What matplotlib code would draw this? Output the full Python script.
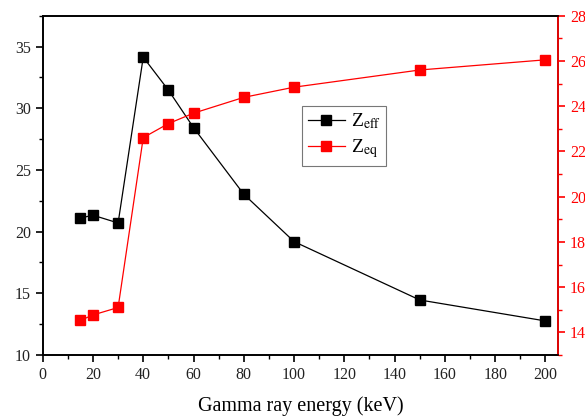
import numpy as np
import matplotlib
matplotlib.use("Agg")
import matplotlib.pyplot as plt
from matplotlib.ticker import MultipleLocator

# energies (keV) and the two atomic numbers
energy = [15, 20, 30, 40, 50, 60, 80, 100, 150, 200]
z_eff = [21.1, 21.33, 20.7, 34.14, 31.47, 28.43, 23.03, 19.19, 14.46, 12.76]
z_eq = [14.53, 14.77, 15.10, 22.61, 23.23, 23.69, 24.39, 24.84, 25.60, 26.05]

plt.rcParams['font.family'] = ['Liberation Serif', 'DejaVu Serif']
plt.rcParams['mathtext.fontset'] = 'stix'

fig = plt.figure(figsize=(5.85, 4.16), dpi=100)
ax = fig.add_axes([42.7/585, 1-355/416, (558-42.7)/585, (355-15.7)/416])
ax2 = ax.twinx()

l1, = ax.plot(energy, z_eff, color='black', lw=0.9, marker='s', ms=7,
              mfc='black', mec='black', label=r'Z$_{\mathrm{eff}}$')
l2, = ax2.plot(energy, z_eq, color='red', lw=0.9, marker='s', ms=7,
               mfc='red', mec='red', label=r'Z$_{\mathrm{eq}}$')

ax.set_xlim(0, 205)
ax.set_ylim(10, 37.5)
ax2.set_ylim(13, 28)

ax.xaxis.set_major_locator(MultipleLocator(20))
ax.xaxis.set_minor_locator(MultipleLocator(10))
ax.yaxis.set_major_locator(MultipleLocator(5))
ax.yaxis.set_minor_locator(MultipleLocator(2.5))
ax2.yaxis.set_major_locator(MultipleLocator(2))
ax2.yaxis.set_minor_locator(MultipleLocator(1))

for a in (ax, ax2):
    for s in a.spines.values():
        s.set_linewidth(1.2)
ax.tick_params(which='major', direction='out', length=5, width=1.2, labelsize=11.5,
               labelcolor='#222222')
ax.tick_params(which='minor', direction='out', length=3, width=1.0)
ax2.tick_params(which='major', direction='out', length=5, width=1.2, labelsize=11.5,
                colors='red')
ax2.tick_params(which='minor', direction='out', length=3, width=1.0, colors='red')
ax2.spines['right'].set_color('red')

ax.set_xlabel('Gamma ray energy (keV)', fontsize=14.5, labelpad=10)

leg = ax.legend(handles=[l1, l2], loc='upper left', bbox_to_anchor=(0.503, 0.734),
                fontsize=14, frameon=True, fancybox=False, edgecolor='#555555',
                handlelength=1.9, borderpad=0.3, labelspacing=0.3,
                handletextpad=0.3, borderaxespad=0)
leg.get_frame().set_linewidth(0.8)

fig.savefig('out.png', dpi=100)
